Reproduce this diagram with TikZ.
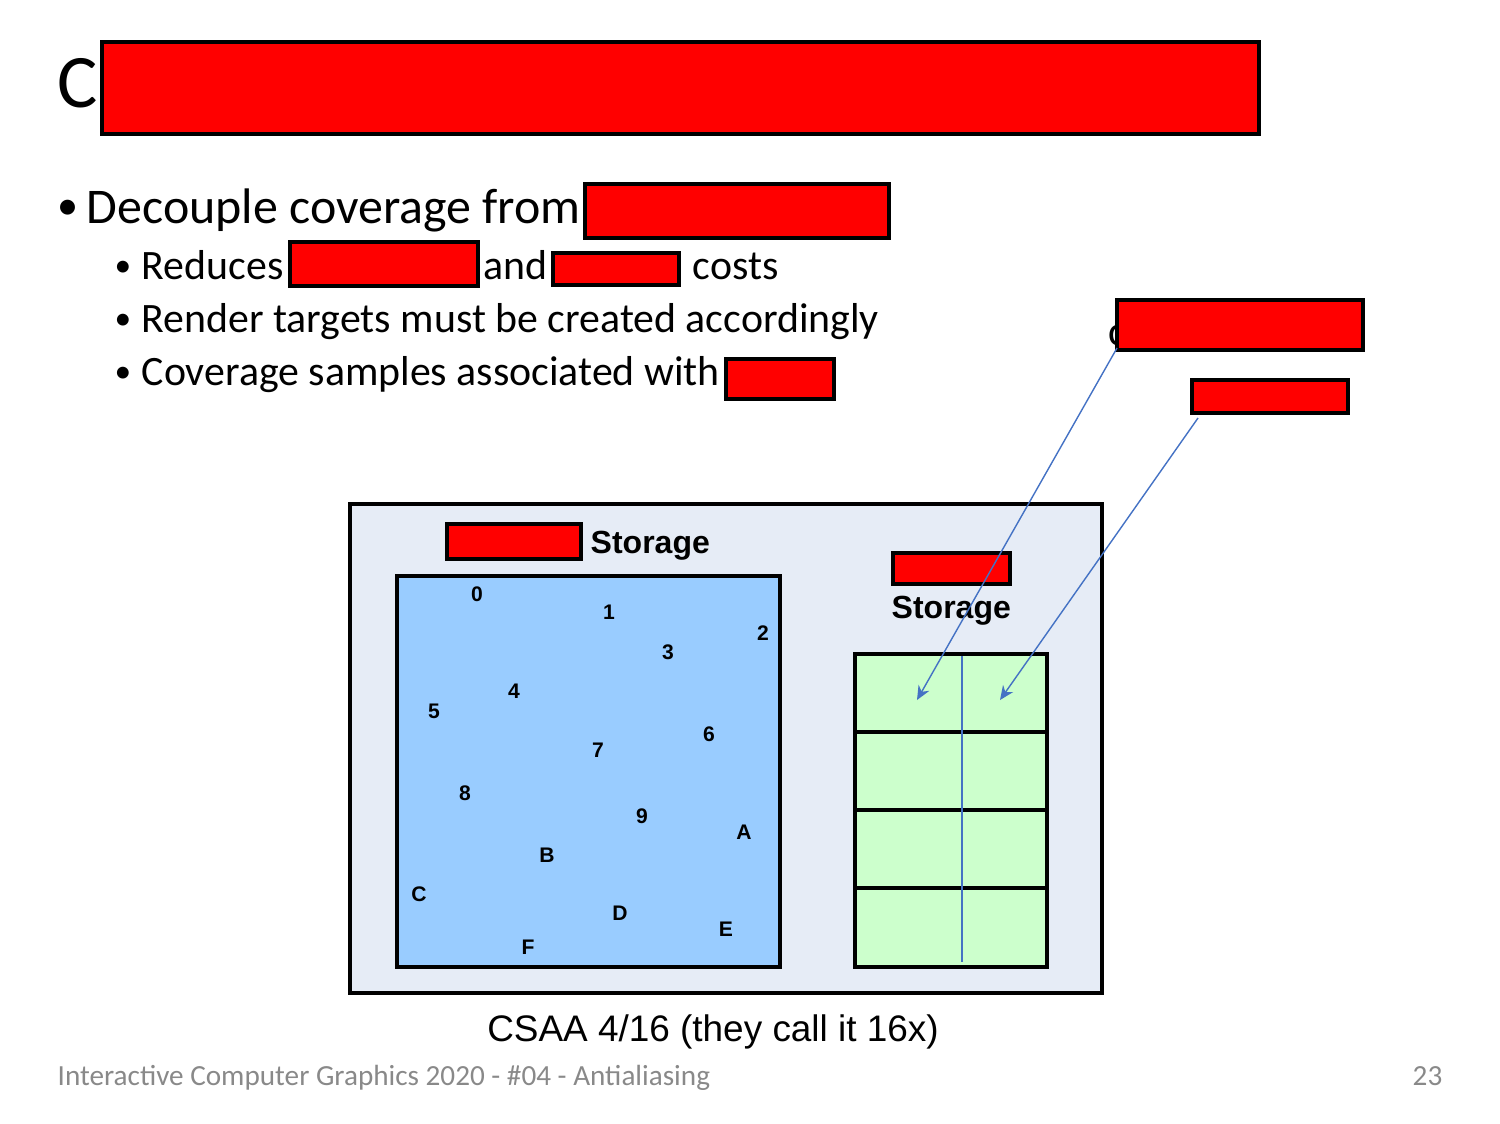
\documentclass[tikz,border=0pt]{standalone}
\usepackage{fontspec}
\setmainfont{Carlito}
\newfontfamily\arialfont{Liberation Sans}
\usetikzlibrary{positioning, arrows.meta}
\definecolor{linkblue}{HTML}{4472C4}
\definecolor{panelbg}{HTML}{E6ECF6}
\definecolor{coverblue}{HTML}{99CCFF}
\definecolor{samplegreen}{HTML}{CCFFCC}
\definecolor{footgray}{HTML}{898989}

\begin{document}
\begin{tikzpicture}[x=0.01cm, y=-0.01cm,
    redact/.style={draw=black, fill=red, line width=1.1pt},
    frame/.style={draw=black, line width=1.1pt},
    titletext/.style={anchor=base west, inner sep=0pt, font=\fontsize{21.5}{25}\selectfont},
    bodytext/.style={anchor=base west, inner sep=0pt, font=\fontsize{14.2}{17}\selectfont},
    subtext/.style={anchor=base west, inner sep=0pt, font=\fontsize{11.9}{14}\selectfont},
    dot/.style={anchor=base west, inner sep=0pt, font=\fontsize{9.5}{11}\selectfont},
    storetext/.style={anchor=base west, inner sep=0pt, font=\arialfont\bfseries\fontsize{9.1}{11}\selectfont},
    sample/.style={inner sep=0pt, font=\arialfont\bfseries\fontsize{6}{7}\selectfont},
    link/.style={draw=linkblue, line width=0.4pt, -{Stealth[length=4pt, width=3.5pt]}}]
    \useasboundingbox (0,0) rectangle (1500,1123);

    % title and bullets
    \node[titletext] (title) at (57,107) {CS};
    \draw[redact] (102,42) rectangle (1259,134);
    \node[dot, font=\fontsize{12}{14}\selectfont] (b1) at (57,219) {\textbullet};
    \node[bodytext] (decouple) at (86,223) {Decouple coverage from};
    \draw[redact] (585,184) rectangle (889,238);
    \node[dot] (b2) at (114,276) {\textbullet};
    \node[subtext] (reduces) at (141,279) {Reduces};
    \draw[redact] (290,242) rectangle (478,286);
    \node[subtext] (and) at (483,279) {and};
    \draw[redact] (553,253) rectangle (679,285);
    \node[subtext] (costs) at (692,279) {costs};
    \node[dot] (b3) at (114,329) {\textbullet};
    \node[subtext] (render) at (141,332) {Render targets must be created accordingly};
    \node[dot] (b4) at (114,382) {\textbullet};
    \node[subtext] (assoc) at (141,385) {Coverage samples associated with};
    \draw[redact] (726,359) rectangle (834,399);

    % callouts on the right
    \node[subtext] (peek) at (1108,345) {c};
    \draw[redact] (1117,300) rectangle (1363,350);
    \draw[redact] (1192,380) rectangle (1348,413);
    \coordinate (tagA) at (1117,348);
    \coordinate (tagB) at (1198,418);

    % storage diagram
    \draw[frame, fill=panelbg] (350,504) rectangle (1102,993);
    \draw[redact] (447,524) rectangle (581,559);
    \node[storetext] (store1) at (590,553) {Storage};
    \draw[redact] (893,553) rectangle (1010,584);
    \node[storetext] (store2) at (891,618) {Storage};
    \draw[frame, fill=coverblue] (397,576) rectangle (780,967);
    \foreach \s/\px/\py in {0/477/594, 1/609/612, 2/763/633, 3/668/652,
        4/514/691, 5/434/711, 6/709/734, 7/598/750, 8/465/793, 9/642/816,
        A/744/832, B/547/855, C/419/894, D/620/913, E/726/929, F/528/947}
        \node[sample] (s\s) at (\px,\py) {\s};
    \draw[frame, fill=samplegreen] (855,654) rectangle (1047,967);
    \foreach \yy in {732,810,888}
        \draw[frame] (855,\yy) -- (1047,\yy);
    \draw[draw=linkblue, line width=0.4pt] (962,656) -- (962,962);
    \coordinate (cellA) at (917,700);
    \coordinate (cellB) at (1000,700);
    \draw[link] (tagA) -- (cellA);
    \draw[link] (tagB) -- (cellB);

    % caption and footer
    \node[anchor=base, inner sep=0pt, font=\arialfont\fontsize{10.5}{12}\selectfont] (caption) at (713,1041) {CSAA 4/16 (they call it 16x)};
    \node[anchor=base west, inner sep=0pt, text=footgray, font=\fontsize{8.3}{10}\selectfont] (footer) at (57,1085) {Interactive Computer Graphics 2020 - \#04 - Antialiasing};
    \node[anchor=base east, inner sep=0pt, text=footgray, font=\fontsize{8.3}{10}\selectfont] (pageno) at (1443,1085) {23};
\end{tikzpicture}
\end{document}
